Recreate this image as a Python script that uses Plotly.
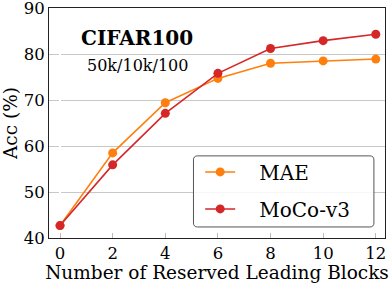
import plotly.graph_objects as go

blocks = [0, 2, 4, 6, 8, 10, 12]
mae_acc = [42.7, 58.5, 69.4, 74.7, 78.0, 78.5, 78.9]
moco_acc = [42.7, 55.9, 67.1, 75.8, 81.2, 82.9, 84.3]
x_ticks = [0, 2, 4, 6, 8, 10, 12]
y_ticks = [40, 50, 60, 70, 80, 90]

FONT = "DejaVu Serif"
ORANGE = "#ff7f0e"
RED = "#d62728"
PAD = "\u00a0\u00a0\u00a0"

fig = go.Figure()
fig.add_trace(go.Scatter(x=blocks, y=mae_acc, mode="lines+markers", name=PAD + "MAE",
                         legendgroup="a",
                         line=dict(color=ORANGE, width=1.6),
                         marker=dict(color=ORANGE, size=9)))
fig.add_trace(go.Scatter(x=blocks, y=moco_acc, mode="lines+markers", name=PAD + "MoCo-v3",
                         legendgroup="b",
                         line=dict(color=RED, width=1.6),
                         marker=dict(color=RED, size=9)))

fig.update_layout(
    width=390, height=283,
    margin=dict(l=49, r=5, t=8, b=45, autoexpand=False),
    paper_bgcolor="white", plot_bgcolor="white",
    font=dict(family=FONT, color="black", size=16),
    showlegend=True,
    legend=dict(x=0.45, y=0.372, xanchor="left", yanchor="top",
                bgcolor="rgba(0,0,0,0)", borderwidth=0, tracegroupgap=8,
                font=dict(family=FONT, size=20), itemwidth=30),
    xaxis=dict(range=[-0.42, 12.35], tickvals=x_ticks, showgrid=False, automargin=False,
               showline=True, linecolor="#222222", linewidth=1, mirror=True,
               ticks="inside", ticklen=5, tickcolor="#bbbbbb", tickwidth=1,
               tickfont=dict(size=16.5), ticklabeloverflow="allow",
               title=dict(text="Number of Reserved Leading Blocks", font=dict(size=18.5), standoff=2)),
    yaxis=dict(range=[40, 90], tickvals=y_ticks, showgrid=True, gridcolor="#c8c8c8", gridwidth=1,
               automargin=False, ticklabeloverflow="allow",
               showline=True, linecolor="#222222", linewidth=1, mirror=True,
               ticks="", tickfont=dict(size=16.5),
               title=dict(text="Acc (%)", font=dict(size=18.5), standoff=4)),
    annotations=[
        dict(text="<b>CIFAR100</b>", x=0.262, y=0.870, xref="paper", yref="paper",
             xanchor="center", yanchor="middle",
             showarrow=False, font=dict(size=20, family=FONT)),
        dict(text="50k/10k/100", x=0.263, y=0.752, xref="paper", yref="paper",
             xanchor="center", yanchor="middle",
             showarrow=False, font=dict(size=16, family=FONT)),
    ],
)

# rounded legend frame
x0, x1, y0, y1, r = 0.43, 0.967, 0.048, 0.357, 0.012
ry = r * 336 / 230
path = (f"M {x0+r},{y1} L {x1-r},{y1} Q {x1},{y1} {x1},{y1-ry} "
        f"L {x1},{y0+ry} Q {x1},{y0} {x1-r},{y0} L {x0+r},{y0} Q {x0},{y0} {x0},{y0+ry} "
        f"L {x0},{y1-ry} Q {x0},{y1} {x0+r},{y1} Z")
fig.add_shape(type="path", path=path, xref="paper", yref="paper",
              line=dict(color="#555555", width=1), fillcolor="rgba(255,255,255,0.85)", layer="above")

fig.write_html("out.html", config={"displayModeBar": False},
               post_script="document.body.style.margin='0';document.body.style.overflow='hidden';")
